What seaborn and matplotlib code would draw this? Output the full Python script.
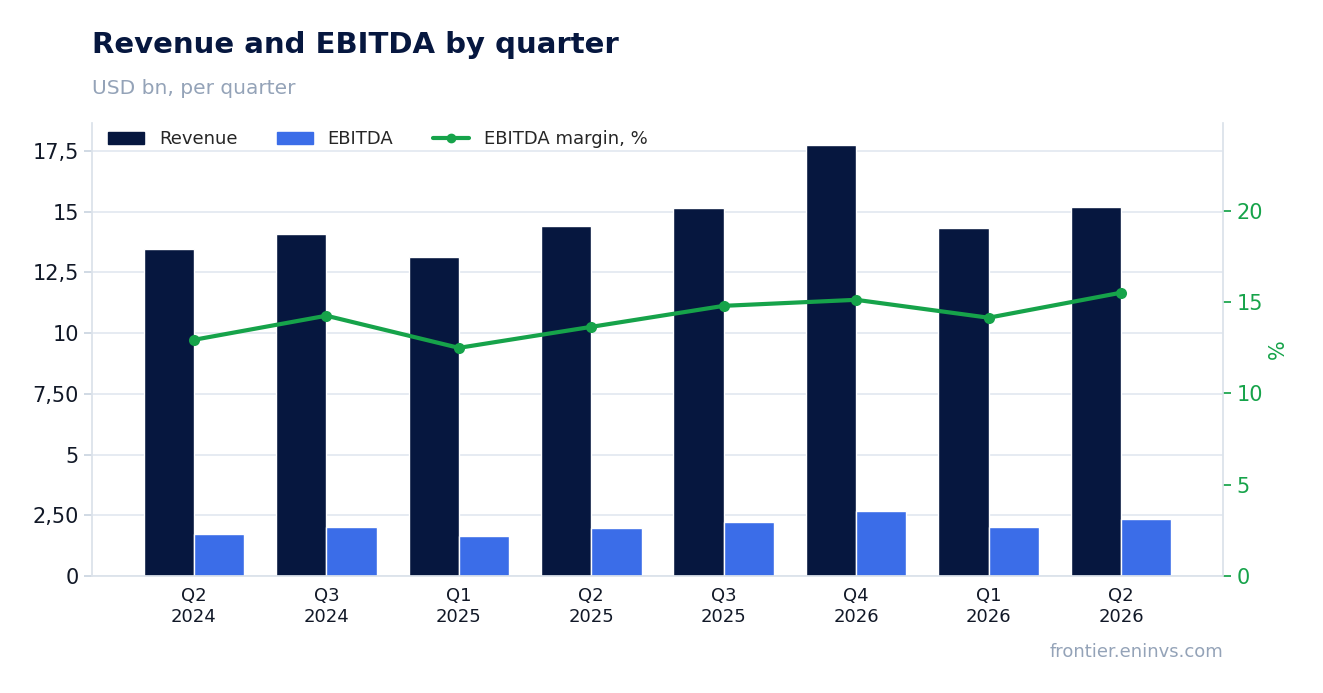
import matplotlib
matplotlib.use("Agg")
import matplotlib.pyplot as plt
import seaborn as sns
import pandas as pd
import numpy as np

quarters = ["Q2\n2024","Q3\n2024","Q1\n2025","Q2\n2025","Q3\n2025","Q4\n2026","Q1\n2026","Q2\n2026"]
revenue = [13.46,14.08,13.13,14.41,15.15,17.74,14.33,15.19]
ebitda = [1.73,2.02,1.65,1.98,2.22,2.68,2.02,2.35]
margin = [12.93,14.25,12.49,13.64,14.79,15.12,14.14,15.51]
left_ticks = [0,2.5,5,7.5,10,12.5,15,17.5]
left_labels = ["0","2,50","5","7,50","10","12,5","15","17,5"]
right_ticks = [0,5,10,15,20]

sns.set_theme(style="white")
plt.rcParams['font.family'] = ['DejaVu Sans']
navy="#06173f"; blue="#3b6de8"; green="#16a34a"; grid="#e2e8f0"

fig = plt.figure(figsize=(13.23,6.93), dpi=100)
ax = fig.add_axes([92/1323, 1-576/693, (1223-92)/1323, (576-123)/693])
df = pd.DataFrame({"q":quarters*2, "v":revenue+ebitda,
                   "s":["Revenue"]*8+["EBITDA"]*8})
sns.barplot(data=df, x="q", y="v", hue="s", palette=[navy,blue], ax=ax,
            width=0.76, saturation=1, legend=False, zorder=2)
ax.set_ylim(0,18.65)
ax.set_yticks(left_ticks); ax.set_yticklabels(left_labels, fontsize=15, color="#111827")
ax.tick_params(axis="x", labelsize=13, colors="#111827", length=0, pad=8)
ax.tick_params(axis="y", length=6, color="#cbd5e1", left=True)
ax.set_xlabel(""); ax.set_ylabel("")
ax.grid(axis="y", color=grid, lw=1.2, zorder=0)
ax.set_axisbelow(True)
for s in ["top","right"]: ax.spines[s].set_visible(False)
for s in ["left","bottom"]: ax.spines[s].set_color("#dbe2ea")

ax2 = ax.twinx()
xs = np.arange(len(quarters))+0.0
sns.lineplot(x=xs, y=margin, ax=ax2, color=green, lw=3, marker="o", markersize=8,
             markeredgewidth=0, zorder=5)
ax2.set_ylim(0,24.8)
ax2.set_yticks(right_ticks)
ax2.tick_params(axis="y", colors=green, labelsize=15, length=6, right=True)
ax2.set_ylabel("%", color=green, fontsize=15)
for s in ["top","left","bottom"]: ax2.spines[s].set_visible(False)
ax2.spines["right"].set_color("#dbe2ea")
ax.set_xlim(-0.77, 7.77)

from matplotlib.patches import Patch
from matplotlib.lines import Line2D
h=[Patch(color=navy,label="Revenue"),Patch(color=blue,label="EBITDA"),
   Line2D([],[],color=green,lw=3,marker="o",label="EBITDA margin, %")]
ax.legend(handles=h, loc="upper left", ncol=3, frameon=False, fontsize=13,
          bbox_to_anchor=(0.0,1.02), columnspacing=2.2)

fig.text(92/1323, 1-45/693, "Revenue and EBITDA by quarter", fontsize=21, weight="bold", color=navy, va="center")
fig.text(92/1323, 1-88/693, "USD bn, per quarter", fontsize=14.5, color="#94a3b8", va="center")
fig.text(1223/1323, 1-652/693, "frontier.eninvs.com", fontsize=13, color="#94a3b8", va="center", ha="right")
fig.savefig("out.png", dpi=100)
